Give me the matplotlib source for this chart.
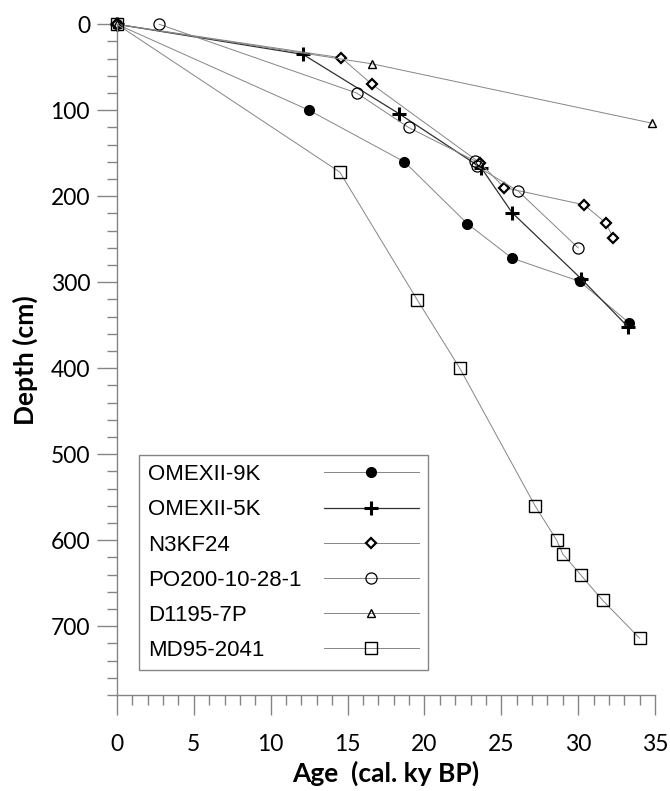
import numpy as np
import matplotlib
matplotlib.use("Agg")
import matplotlib.pyplot as plt

# age (cal. ky BP) and depth (cm) for each core
names = ["OMEXII-9K", "OMEXII-5K", "N3KF24", "PO200-10-28-1", "D1195-7P", "MD95-2041"]

age_9k = [0, 12.5, 18.7, 22.8, 25.7, 30.1, 33.3]
dep_9k = [0, 100, 160, 232, 272, 299, 347]

age_5k = [0, 12.1, 18.35, 23.7, 25.7, 30.2, 33.25]
dep_5k = [0, 35, 104, 167, 219, 296, 352]

age_n3 = [0, 14.6, 16.6, 23.6, 25.2, 30.4, 31.8, 32.3]
dep_n3 = [0, 39, 70, 161, 190, 210, 231, 249]

age_po = [2.75, 15.6, 18.97, 23.3, 23.4, 26.1, 30.0]
dep_po = [0, 80, 120, 159, 165, 194, 260]

age_d1 = [0, 16.6, 34.8]
dep_d1 = [0, 46, 115]

age_md = [0, 14.5, 19.55, 22.3, 27.2, 28.6, 29.0, 30.2, 31.6, 34.0]
dep_md = [0, 172, 321, 400, 560, 600, 616, 641, 670, 714]

gray = "#858585"

fig = plt.figure(figsize=(6.7, 7.91), dpi=100)
ax = fig.add_axes([0.1746, 0.1214, 0.8030, 0.8479])

lw = 0.7
kw = dict(clip_on=False)
ax.plot(age_9k, dep_9k, color=gray, lw=lw, marker="o", ms=7, mfc="black", mec="black",
        label=names[0], **kw)
ax.plot(age_5k, dep_5k, color="#303030", lw=0.9, marker="+", ms=10, mew=2.2, mec="black",
        label=names[1], **kw)
ax.plot(age_n3, dep_n3, color=gray, lw=lw, marker="D", ms=5, mfc="white", mec="black",
        mew=1.6, label=names[2], **kw)
ax.plot(age_po, dep_po, color=gray, lw=lw, marker="o", ms=8, mfc="none", mec="black",
        mew=0.9, label=names[3], **kw)
ax.plot(age_d1, dep_d1, color=gray, lw=lw, marker="^", ms=6, mfc="none", mec="black",
        mew=1.0, label=names[4], **kw)
ax.plot(age_md, dep_md, color=gray, lw=lw, marker="s", ms=8, mfc="none", mec="black",
        mew=1.0, label=names[5], **kw)

ax.set_xlim(0, 35)
ax.set_ylim(780, 0)

ax.set_xticks(np.arange(0, 36, 5))
ax.set_xticks(np.arange(0, 36, 1), minor=True)
ax.set_yticks(np.arange(0, 701, 100))
ax.set_yticks(np.arange(0, 781, 20), minor=True)

for s in ["top", "right"]:
    ax.spines[s].set_visible(False)
for s in ["left", "bottom"]:
    ax.spines[s].set_color(gray)
    ax.spines[s].set_linewidth(1.0)

tick_font = "Lato"
ax.tick_params(axis="both", which="major", direction="out", length=14.4, width=1.0,
               color=gray, labelsize=16.5)
ax.tick_params(axis="both", which="minor", direction="out", length=7.2, width=1.0,
               color=gray)
ax.tick_params(axis="x", which="major", pad=14)
ax.tick_params(axis="y", which="major", pad=5)
for lab in ax.get_xticklabels() + ax.get_yticklabels():
    lab.set_fontfamily(tick_font)

ax.set_xlabel("Age  (cal. ky BP)", fontsize=19, fontweight="bold", family=tick_font,
              labelpad=4)
ax.set_ylabel("Depth (cm)", fontsize=19, fontweight="bold", family=tick_font,
              labelpad=9)

leg = ax.legend(loc="lower left", bbox_to_anchor=(0.041, 0.037), borderaxespad=0,
                markerfirst=False, handlelength=4.3, handletextpad=1.0,
                labelspacing=0.64, borderpad=0.4, fancybox=False, framealpha=1,
                prop={"family": "Liberation Sans", "size": 16})
leg.get_frame().set_edgecolor(gray)
leg.get_frame().set_linewidth(1.0)

# text on the left, left-aligned; handles lined up on the right
fig.canvas.draw()
r = fig.canvas.get_renderer()
col = leg._legend_handle_box.get_children()[0]
col.align = "left"
widths = [t.get_window_extent(r).width for t in leg.get_texts()]
wmax = max(widths)
for box, w in zip(col.get_children(), widths):
    box.sep = box.sep + (wmax - w) * 72 / fig.dpi

fig.savefig("out.png", dpi=100)
